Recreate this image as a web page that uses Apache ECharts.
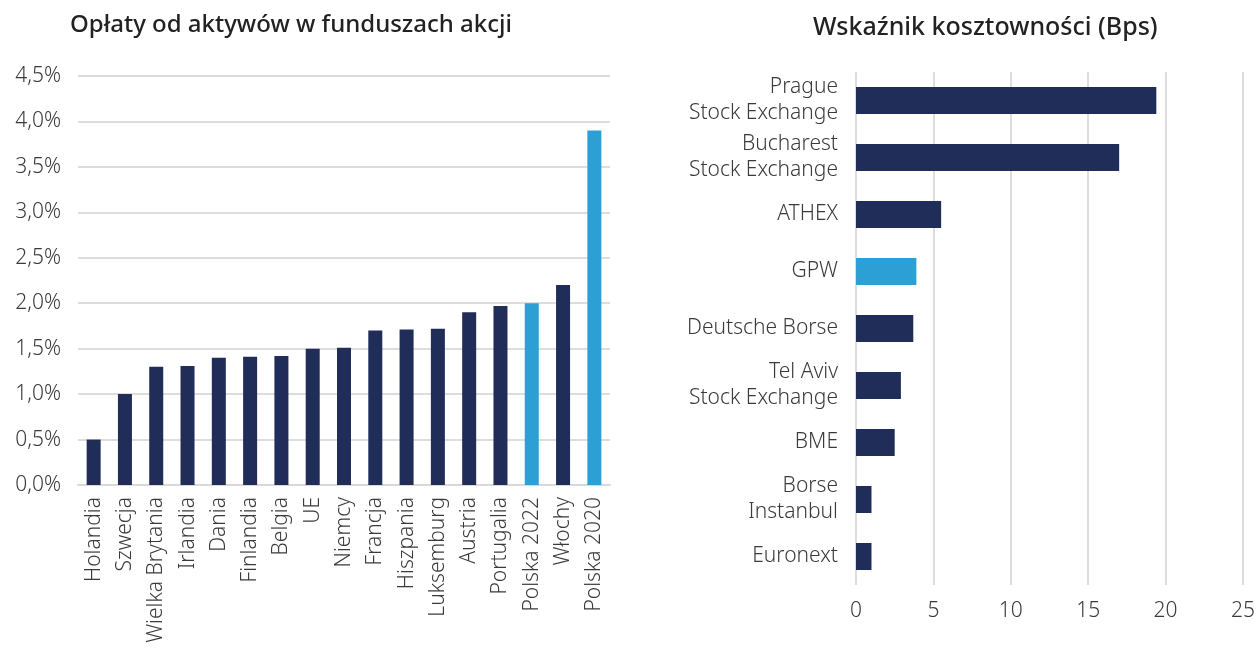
<!DOCTYPE html>
<html>
<head>
<meta charset="utf-8">
<style>
  html, body { margin: 0; padding: 0; background: #fff; }
  #chart { width: 1258px; height: 665px; }
</style>
<script src="https://cdn.jsdelivr.net/npm/echarts@6/dist/echarts.min.js"></script>
</head>
<body>
<div id="chart"></div>
<script>
// opłaty od aktywów (%)
const feeCountries = ['Holandia', 'Szwecja', 'Wielka Brytania', 'Irlandia', 'Dania', 'Finlandia', 'Belgia', 'UE',
  'Niemcy', 'Francja', 'Hiszpania', 'Luksemburg', 'Austria', 'Portugalia', 'Polska 2022', 'Włochy', 'Polska 2020'];
const feeValues = [0.5, 1.0, 1.3, 1.31, 1.4, 1.41, 1.42, 1.5, 1.51, 1.7, 1.71, 1.72, 1.9, 1.97, 2.0, 2.2, 3.9];
const feeHighlight = ['Polska 2022', 'Polska 2020'];

// wskaźnik kosztowności (Bps), od góry do dołu
const exchanges = ['Prague\nStock Exchange', 'Bucharest\nStock Exchange', 'ATHEX', 'GPW', 'Deutsche Borse',
  'Tel Aviv\nStock Exchange', 'BME', 'Borse\nInstanbul', 'Euronext'];
const bpsValues = [19.4, 17.0, 5.5, 3.9, 3.7, 2.9, 2.5, 1.0, 1.0];
const bpsHighlight = ['GPW'];

const NAVY = '#1f2d58';
const BLUE = '#2ca0d5';
const FONT = '"Noto Sans", sans-serif';
const TEXT = '#3a3a3a';
const GRID = '#d2d2d2';

const paint = (names, values, hl) => values.map((v, i) => ({
  value: v,
  itemStyle: { color: hl.includes(names[i]) ? BLUE : NAVY },
}));

const labelFont = { fontSize: 21, fontWeight: 300, color: TEXT, fontFamily: FONT };

const chart = echarts.init(document.getElementById('chart'));
chart.setOption({
  animation: false,
  textStyle: { fontFamily: FONT },
  title: [
    {
      text: 'Opłaty od aktywów w funduszach akcji',
      left: 65, top: 8,
      textStyle: { fontFamily: FONT, fontSize: 24, fontWeight: 500, color: '#222' },
    },
    {
      text: 'Wskaźnik kosztowności (Bps)',
      left: 808, top: 10,
      textStyle: { fontFamily: FONT, fontSize: 25, fontWeight: 500, color: '#222' },
    },
  ],
  grid: [
    { left: 78, width: 532, top: 76, height: 409 },
    { left: 856, width: 387, top: 72, height: 513 },
  ],
  xAxis: [
    {
      gridIndex: 0,
      type: 'category',
      data: feeCountries,
      axisLine: { lineStyle: { color: '#d9d9d9', width: 2 } },
      axisTick: { show: false },
      axisLabel: Object.assign({ rotate: 90, margin: 12, interval: 0 }, labelFont),
    },
    {
      gridIndex: 1,
      type: 'value',
      min: 0, max: 25, interval: 5,
      axisLine: { show: false },
      axisTick: { show: false },
      splitLine: { lineStyle: { color: GRID, width: 1.5 } },
      axisLabel: Object.assign({ margin: 16 }, labelFont),
    },
  ],
  yAxis: [
    {
      gridIndex: 0,
      type: 'value',
      min: 0, max: 4.5, interval: 0.5,
      axisLine: { show: false },
      axisTick: { show: false },
      splitLine: { lineStyle: { color: GRID, width: 1.5 } },
      axisLabel: Object.assign({
        margin: 17,
        formatter: v => v.toFixed(1).replace('.', ',') + '%',
      }, labelFont),
    },
    {
      gridIndex: 1,
      type: 'category',
      inverse: true,
      data: exchanges,
      axisLine: { show: false },
      axisTick: { show: false },
      axisLabel: Object.assign({ margin: 18, lineHeight: 26, interval: 0 }, labelFont),
    },
  ],
  series: [
    {
      type: 'bar',
      xAxisIndex: 0, yAxisIndex: 0,
      barWidth: 14,
      data: paint(feeCountries, feeValues, feeHighlight),
    },
    {
      type: 'bar',
      xAxisIndex: 1, yAxisIndex: 1,
      barWidth: 27,
      data: paint(exchanges, bpsValues, bpsHighlight),
    },
  ],
});
</script>
</body>
</html>
